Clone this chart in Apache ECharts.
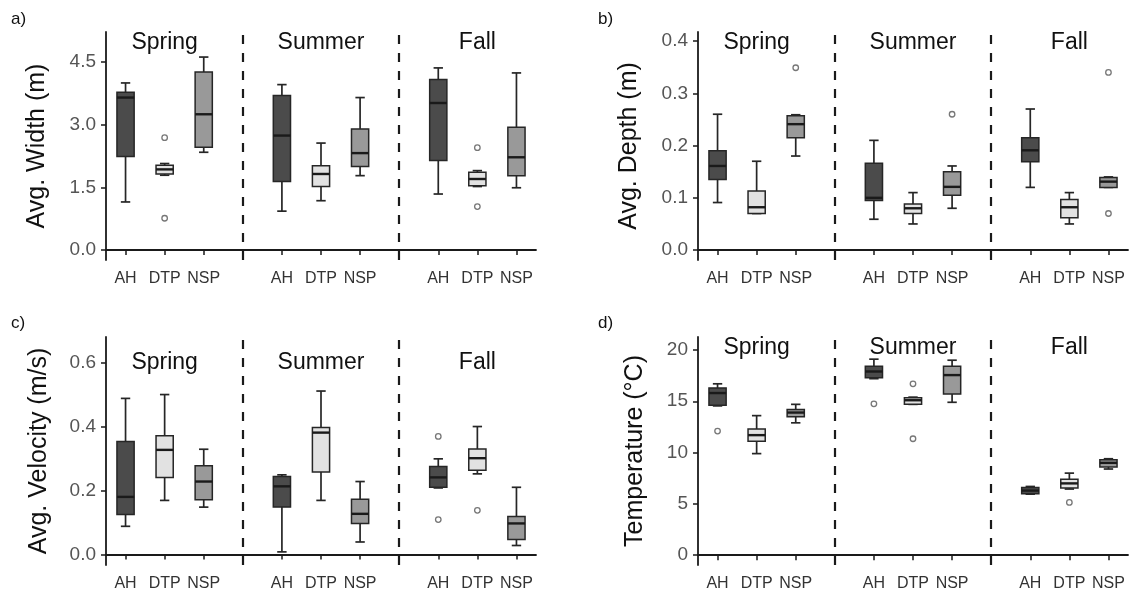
<!DOCTYPE html>
<html>
<head>
<meta charset="utf-8">
<title>Stream habitat by season</title>
<script src="https://cdn.jsdelivr.net/npm/echarts@6/dist/echarts.min.js"></script>
<style>
html,body{margin:0;padding:0;background:#fff;}
#main{width:1135px;height:592px;}
</style>
</head>
<body>
<div id="main"></div>
<script>
// x slots: 3 sites per season, a blank slot between seasons holds the dashed divider
var slotLabels = ['AH','DTP','NSP','','AH','DTP','NSP','','AH','DTP','NSP'];
var seasons = ['Spring','Summer','Fall'];
var sites = ['AH','DTP','NSP'];

// boxes: [min, q1, median, q3, max], order Spring AH/DTP/NSP, Summer ..., Fall ...
var widthBox = [
    [1.15, 2.24, 3.65, 3.78, 4.00],
    [1.79, 1.82, 1.93, 2.03, 2.07],
    [2.34, 2.46, 3.25, 4.26, 4.62],
    [0.93, 1.64, 2.74, 3.70, 3.96],
    [1.18, 1.52, 1.82, 2.02, 2.56],
    [1.78, 2.00, 2.32, 2.90, 3.65],
    [1.34, 2.14, 3.52, 4.08, 4.36],
    [1.52, 1.54, 1.70, 1.86, 1.90],
    [1.49, 1.78, 2.22, 2.94, 4.24]
];
// outliers: [box index, value]
var widthOut = [[1, 2.69], [1, 0.76], [7, 2.45], [7, 1.04]];

var depthBox = [
    [0.091, 0.135, 0.161, 0.190, 0.260],
    [0.070, 0.070, 0.082, 0.113, 0.170],
    [0.180, 0.215, 0.241, 0.257, 0.259],
    [0.059, 0.095, 0.100, 0.166, 0.210],
    [0.050, 0.070, 0.080, 0.088, 0.110],
    [0.080, 0.105, 0.121, 0.150, 0.161],
    [0.120, 0.169, 0.191, 0.215, 0.270],
    [0.050, 0.062, 0.082, 0.097, 0.110],
    [0.120, 0.120, 0.131, 0.139, 0.140]
];
var depthOut = [[2, 0.349], [5, 0.260], [8, 0.340], [8, 0.070]];

var velocityBox = [
    [0.088, 0.125, 0.180, 0.353, 0.488],
    [0.169, 0.241, 0.327, 0.371, 0.500],
    [0.148, 0.171, 0.228, 0.277, 0.329],
    [0.008, 0.148, 0.213, 0.244, 0.249],
    [0.169, 0.258, 0.381, 0.397, 0.511],
    [0.039, 0.097, 0.127, 0.173, 0.228],
    [0.208, 0.210, 0.241, 0.275, 0.299],
    [0.252, 0.263, 0.301, 0.330, 0.400],
    [0.028, 0.047, 0.097, 0.119, 0.210]
];
var velocityOut = [[6, 0.369], [6, 0.109], [7, 0.138]];

var tempBox = [
    [14.55, 14.6, 15.8, 16.3, 16.7],
    [9.9, 11.1, 11.7, 12.3, 13.6],
    [12.9, 13.5, 13.9, 14.2, 14.7],
    [17.2, 17.3, 17.9, 18.4, 19.1],
    [14.7, 14.7, 15.1, 15.35, 15.4],
    [14.9, 15.7, 17.55, 18.4, 19.0],
    [5.95, 6.0, 6.3, 6.6, 6.7],
    [6.45, 6.55, 7.0, 7.4, 8.0],
    [8.4, 8.6, 9.0, 9.3, 9.4]
];
var tempOut = [[0, 12.1], [3, 14.75], [4, 16.7], [4, 11.35], [7, 5.15]];

var widthTicks = [0, 1.5, 3.0, 4.5];
var depthTicks = [0, 0.1, 0.2, 0.3, 0.4];
var velocityTicks = [0, 0.2, 0.4, 0.6];
var tempTicks = [0, 5, 10, 15, 20];

var siteFill = {AH: '#4b4b4b', DTP: '#e2e2e2', NSP: '#999999'};
var font = "'Liberation Sans', Arial, sans-serif";

var panels = [
    {tag: 'a)', name: 'Avg. Width (m)', box: widthBox, out: widthOut, ticks: widthTicks, min: -0.24, max: 5.22, digits: 1,
     left: 106, top: 32, height: 228, nameGap: 56, tagX: 11, tagY: 21, seasonY: 43},
    {tag: 'b)', name: 'Avg. Depth (m)', box: depthBox, out: depthOut, ticks: depthTicks, min: -0.019, max: 0.4174, digits: 1,
     left: 698, top: 32, height: 228, nameGap: 56, tagX: 598, tagY: 21, seasonY: 43},
    {tag: 'c)', name: 'Avg. Velocity (m/s)', box: velocityBox, out: velocityOut, ticks: velocityTicks, min: -0.033, max: 0.68, digits: 1,
     left: 106, top: 337, height: 229, nameGap: 54, tagX: 11, tagY: 325, seasonY: 363},
    {tag: 'd)', name: 'Temperature (°C)', box: tempBox, out: tempOut, ticks: tempTicks, min: -0.95, max: 21.26, digits: 0,
     left: 698, top: 337, height: 229, nameGap: 50, tagX: 598, tagY: 325, seasonY: 348}
];

function slotOf(i) { return i + Math.floor(i / 3); }

function renderBox(params, api) {
    var x = api.value(0);
    var lo = api.coord([x, api.value(1)]);
    var q1 = api.coord([x, api.value(2)]);
    var md = api.coord([x, api.value(3)]);
    var q3 = api.coord([x, api.value(4)]);
    var hi = api.coord([x, api.value(5)]);
    var band = api.size([1, 0])[0];
    var hw = band * 0.22, cw = band * 0.12, cx = lo[0];
    var fill = siteFill[sites[params.dataIndex % 3]];
    var edge = '#262626';
    return {
        type: 'group',
        children: [
            {type: 'line', shape: {x1: cx, y1: lo[1], x2: cx, y2: hi[1]}, style: {stroke: edge, lineWidth: 1.7}},
            {type: 'line', shape: {x1: cx - cw, y1: lo[1], x2: cx + cw, y2: lo[1]}, style: {stroke: edge, lineWidth: 1.7}},
            {type: 'line', shape: {x1: cx - cw, y1: hi[1], x2: cx + cw, y2: hi[1]}, style: {stroke: edge, lineWidth: 1.7}},
            {type: 'rect', shape: {x: cx - hw, y: q3[1], width: hw * 2, height: q1[1] - q3[1]},
             style: {fill: fill, stroke: edge, lineWidth: 1.5}},
            {type: 'line', shape: {x1: cx - hw, y1: md[1], x2: cx + hw, y2: md[1]}, style: {stroke: '#1a1a1a', lineWidth: 2.4}}
        ]
    };
}

var grids = [], xAxes = [], yAxes = [], series = [], graphics = [];
panels.forEach(function (p, k) {
    grids.push({left: p.left, top: p.top, width: 430, height: p.height});
    xAxes.push({
        type: 'category', gridIndex: k, data: slotLabels,
        axisLine: {lineStyle: {color: '#1a1a1a', width: 1.8}},
        axisTick: {show: true, interval: 0, alignWithLabel: true, length: 5, lineStyle: {color: '#1a1a1a', width: 1.5}},
        axisLabel: {interval: 0, margin: 11, color: '#333', fontSize: 16, fontFamily: font},
        splitLine: {show: false}
    });
    yAxes.push({
        type: 'value', gridIndex: k, min: p.min, max: p.max,
        name: p.name, nameLocation: 'middle', nameGap: p.nameGap,
        nameTextStyle: {color: '#111', fontSize: 25, fontFamily: font},
        axisLine: {show: true, lineStyle: {color: '#1a1a1a', width: 1.8}},
        axisTick: {show: true, length: 5, customValues: p.ticks, lineStyle: {color: '#1a1a1a', width: 1.5}},
        axisLabel: {margin: 10, color: '#555', fontSize: 19, fontFamily: font, customValues: p.ticks,
            formatter: (function (d) { return function (v) { return v.toFixed(d); }; })(p.digits)},
        splitLine: {show: false}
    });
    series.push({
        type: 'custom', xAxisIndex: k, yAxisIndex: k, renderItem: renderBox,
        encode: {x: 0, y: [1, 2, 3, 4, 5]},
        data: p.box.map(function (b, i) { return [slotOf(i)].concat(b); }),
        markLine: {
            silent: true, symbol: 'none', animation: false,
            label: {show: false},
            lineStyle: {color: '#1a1a1a', width: 2.2, type: [9, 9]},
            data: [{xAxis: 3}, {xAxis: 7}]
        },
        z: 2
    });
    series.push({
        type: 'scatter', xAxisIndex: k, yAxisIndex: k, symbol: 'circle', symbolSize: 5.5,
        itemStyle: {color: '#fff', borderColor: '#555', borderWidth: 1.3},
        data: p.out.map(function (o) { return [slotOf(o[0]), o[1]]; }),
        z: 3
    });
    graphics.push({type: 'text', left: p.tagX, top: p.tagY - 10,
        style: {text: p.tag, fill: '#111', font: '17px ' + font}});
    var band = 430 / 11;
    seasons.forEach(function (s, j) {
        graphics.push({type: 'text', x: p.left + band * (4 * j + 1.5), y: p.seasonY,
            style: {text: s, fill: '#111', font: '23px ' + font, textAlign: 'center', textVerticalAlign: 'middle'}});
    });
});

var myChart = echarts.init(document.getElementById('main'), null, {renderer: 'canvas'});
myChart.setOption({
    backgroundColor: '#fff',
    animation: false,
    grid: grids,
    xAxis: xAxes,
    yAxis: yAxes,
    series: series,
    graphic: graphics
});
</script>
</body>
</html>
